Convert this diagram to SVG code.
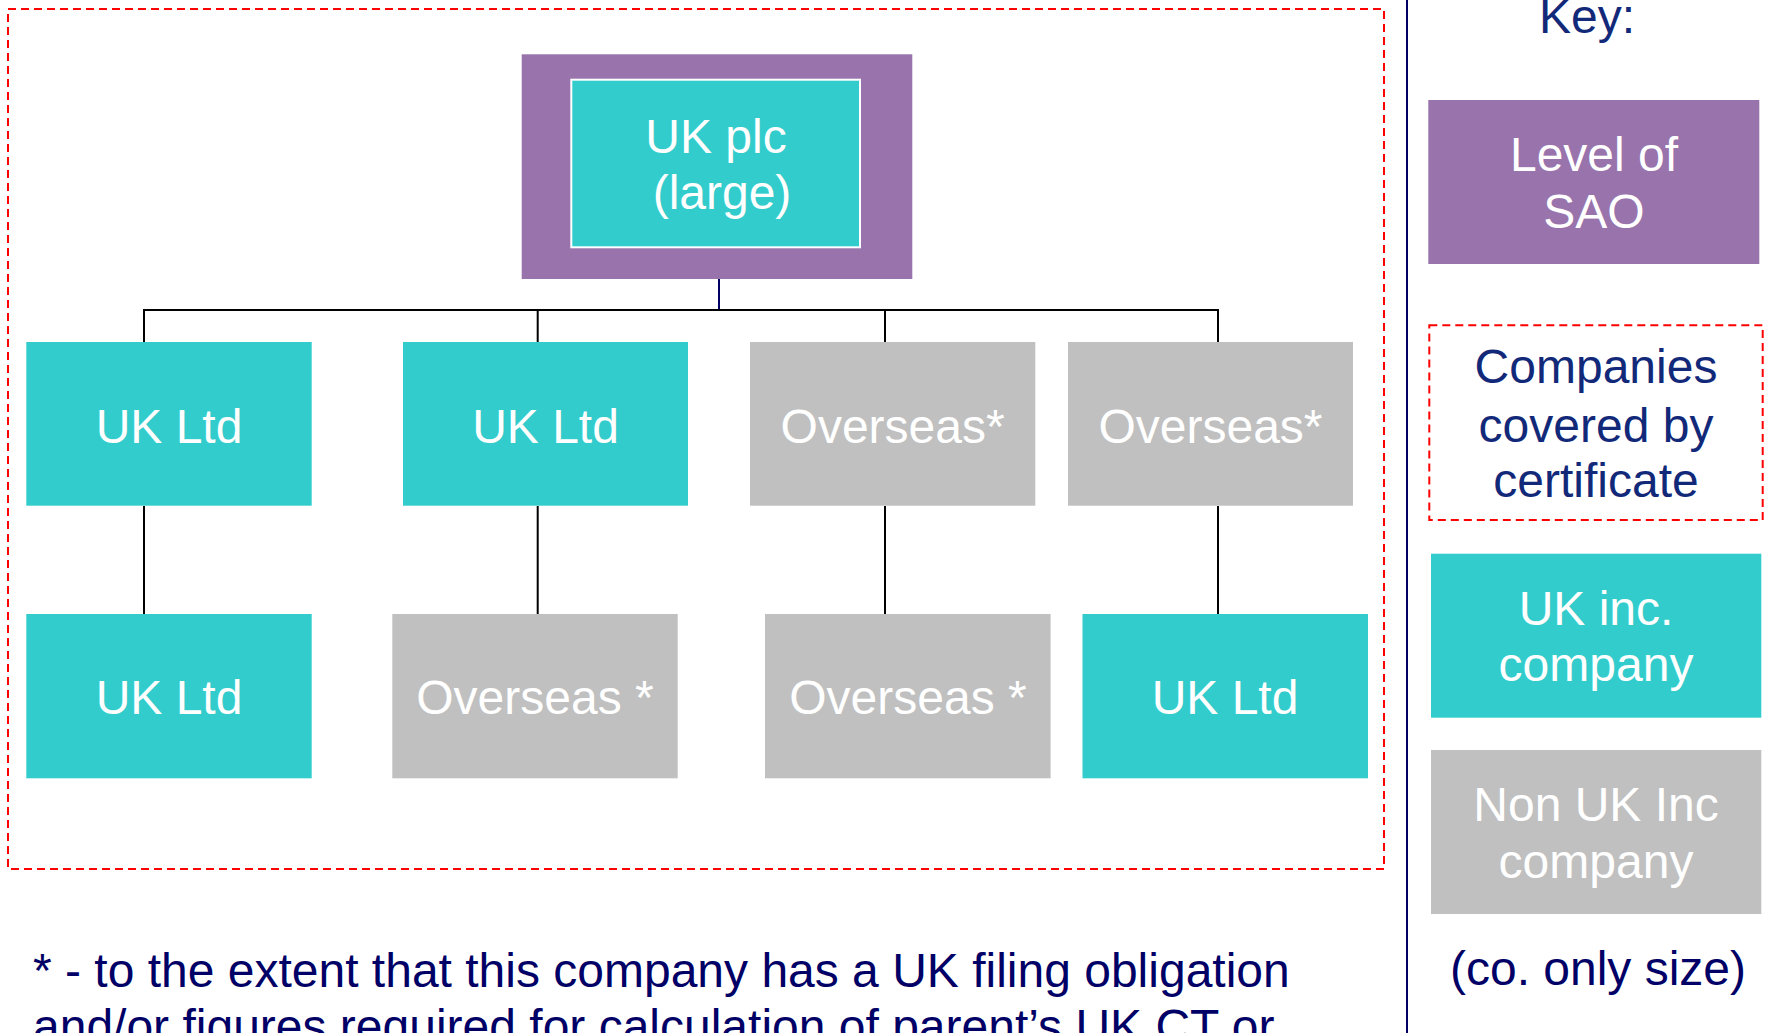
<svg xmlns="http://www.w3.org/2000/svg" width="1779" height="1033" viewBox="0 0 1779 1033">
  <style>
    text { font-family: "Liberation Sans", Arial, sans-serif; font-size: 48px; }
    .lbl { fill: #ffffff; text-anchor: middle; }
    .uk { fill: #33CCCC; }
    .ovs { fill: #C0C0C0; }
    .sao { fill: #9873AC; }
    .cover { fill: none; stroke: #FF0000; stroke-width: 2; stroke-dasharray: 8 5; }
    .navy { fill: #000066; }
    .blue { fill: #12297A; }
    .wire { stroke: #000000; stroke-width: 2; fill: none; }
  </style>

  <rect width="1779" height="1033" fill="#ffffff"/>

  <!-- scope of the certificate -->
  <rect class="cover" x="8" y="9" width="1376" height="860"/>

  <!-- divider between chart and key -->
  <line x1="1407" y1="0" x2="1407" y2="1033" stroke="#000066" stroke-width="2"/>

  <!-- connectors -->
  <g id="connectors">
    <line x1="719" y1="248" x2="719" y2="310" stroke="#000066" stroke-width="2"/>
    <polyline class="wire" points="144,342 144,310 1218,310 1218,342"/>
    <line class="wire" x1="537.7" y1="310" x2="537.7" y2="342"/>
    <line class="wire" x1="885" y1="310" x2="885" y2="342"/>
    <line class="wire" x1="144" y1="506" x2="144" y2="614"/>
    <line class="wire" x1="537.7" y1="506" x2="537.7" y2="614"/>
    <line class="wire" x1="885" y1="506" x2="885" y2="614"/>
    <line class="wire" x1="1218" y1="506" x2="1218" y2="614"/>
  </g>

  <!-- parent -->
  <g id="uk-plc">
    <rect class="sao" x="521.7" y="54.3" width="390.6" height="224.7"/>
    <rect class="uk" x="571.3" y="79.7" width="288.7" height="167.6" stroke="#ffffff" stroke-width="2"/>
    <text class="lbl" x="716" y="153">UK plc</text>
    <text class="lbl" x="722" y="209">(large)</text>
  </g>

  <!-- first tier -->
  <g id="uk-ltd-1">
    <rect class="uk" x="26.3" y="342" width="285.4" height="163.7"/>
    <text class="lbl" x="169" y="443">UK Ltd</text>
  </g>
  <g id="uk-ltd-2">
    <rect class="uk" x="403" y="342" width="285" height="163.7"/>
    <text class="lbl" x="545.5" y="443">UK Ltd</text>
  </g>
  <g id="overseas-1">
    <rect class="ovs" x="750" y="342" width="285.3" height="163.7"/>
    <text class="lbl" x="892.6" y="443">Overseas*</text>
  </g>
  <g id="overseas-2">
    <rect class="ovs" x="1068" y="342" width="285" height="163.7"/>
    <text class="lbl" x="1210.5" y="443">Overseas*</text>
  </g>

  <!-- second tier -->
  <g id="uk-ltd-3">
    <rect class="uk" x="26.3" y="614" width="285.4" height="164.3"/>
    <text class="lbl" x="169" y="714">UK Ltd</text>
  </g>
  <g id="overseas-3">
    <rect class="ovs" x="392.3" y="614" width="285.4" height="164.3"/>
    <text class="lbl" x="535" y="714">Overseas *</text>
  </g>
  <g id="overseas-4">
    <rect class="ovs" x="765" y="614" width="285.6" height="164.3"/>
    <text class="lbl" x="908" y="714">Overseas *</text>
  </g>
  <g id="uk-ltd-4">
    <rect class="uk" x="1082.5" y="614" width="285.5" height="164.3"/>
    <text class="lbl" x="1225" y="714">UK Ltd</text>
  </g>

  <!-- key -->
  <g id="key">
    <text class="blue" x="1539" y="33">Key:</text>
  </g>
  <g id="key-sao">
    <rect class="sao" x="1428.3" y="100" width="331" height="164"/>
    <text class="lbl" x="1594" y="170.7">Level of</text>
    <text class="lbl" x="1594" y="228.3">SAO</text>
  </g>
  <g id="key-cover">
    <rect class="cover" x="1429.3" y="325.3" width="333.4" height="194.7"/>
    <text class="blue" text-anchor="middle" x="1596" y="383.3">Companies</text>
    <text class="blue" text-anchor="middle" x="1596" y="441.7">covered by</text>
    <text class="blue" text-anchor="middle" x="1596" y="497.3">certificate</text>
  </g>
  <g id="key-uk">
    <rect class="uk" x="1431" y="553.7" width="330.3" height="164"/>
    <text class="lbl" x="1596" y="625">UK inc.</text>
    <text class="lbl" x="1596" y="680.7">company</text>
  </g>
  <g id="key-non-uk">
    <rect class="ovs" x="1431" y="750" width="330.3" height="164"/>
    <text class="lbl" x="1596" y="821">Non UK Inc</text>
    <text class="lbl" x="1596" y="878.3">company</text>
  </g>
  <g id="key-size">
    <text class="navy" text-anchor="middle" x="1598" y="985">(co. only size)</text>
  </g>

  <!-- footnote -->
  <g id="footnote">
    <text class="navy" x="33" y="987">* - to the extent that this company has a UK filing obligation</text>
    <text class="navy" x="33" y="1043">and/or figures required for calculation of parent’s UK CT or</text>
  </g>
</svg>
